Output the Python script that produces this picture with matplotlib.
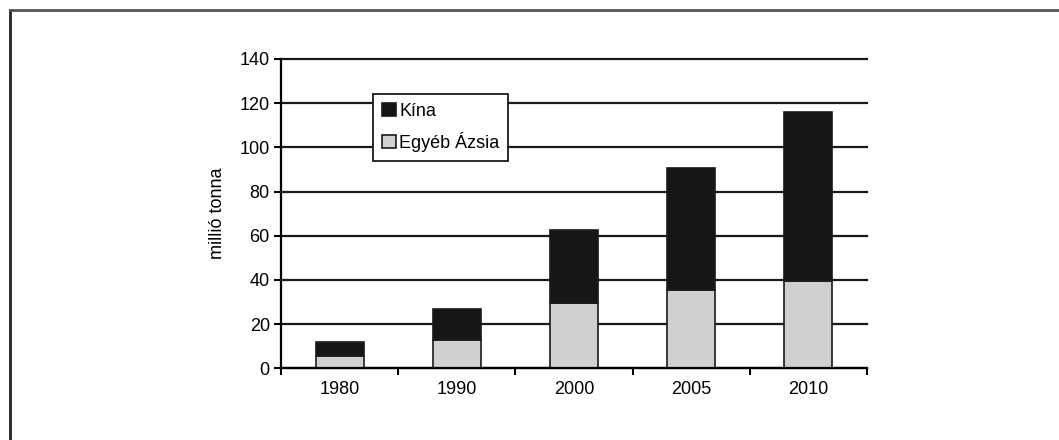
import numpy as np
import matplotlib
matplotlib.use("Agg")
import matplotlib.pyplot as plt
from matplotlib.lines import Line2D

years = ["1980", "1990", "2000", "2005", "2010"]
egyeb_azsia = [5.5, 13, 29.5, 35.5, 39.5]
kina = [6.5, 14, 33, 55, 76.5]

plt.rcParams["font.family"] = ["Liberation Sans", "DejaVu Sans"]
fs = 13

fig = plt.figure(figsize=(10.59, 4.4), dpi=100)
ax = fig.add_axes([0.2653, 0.163, 0.5534, 0.703])

x = np.arange(len(years))
w = 0.41
ax.bar(x, egyeb_azsia, width=w, color="#d0d0d0", edgecolor="#1a1a1a", linewidth=1.2,
       label="Egyéb Ázsia", zorder=3)
ax.bar(x, kina, width=w, bottom=egyeb_azsia, color="#161616", edgecolor="#1a1a1a",
       linewidth=1.2, label="Kína", zorder=3)

ax.set_xlim(-0.5, len(years) - 0.5)
ax.set_ylim(0, 140)
ax.set_yticks(range(0, 141, 20))
ax.set_xticks(x)
ax.set_xticklabels(years)
ax.set_xticks(np.arange(len(years) + 1) - 0.5, minor=True)
ax.tick_params(axis="x", which="major", length=0, pad=9, labelsize=fs)
ax.tick_params(axis="x", which="minor", length=5, width=1.5, direction="out")
ax.tick_params(axis="y", length=5, width=1.5, labelsize=fs, pad=3)
ax.yaxis.grid(True, color="#1a1a1a", linewidth=1.6, zorder=1)
for gl in ax.get_ygridlines():
    gl.set_clip_on(False)
ax.set_axisbelow(True)
for s in ["top", "right"]:
    ax.spines[s].set_visible(False)
ax.spines["left"].set_linewidth(1.6)
ax.spines["bottom"].set_linewidth(1.6)
ax.spines["bottom"].set_zorder(4)
ax.set_ylabel("millió tonna", fontsize=fs, labelpad=10)

handles, labels = ax.get_legend_handles_labels()
leg = ax.legend(handles[::-1], labels[::-1], loc="upper left",
                bbox_to_anchor=(0.157, 0.887), fancybox=False, framealpha=1,
                edgecolor="#1a1a1a", fontsize=fs, handlelength=0.75,
                handleheight=0.75, handletextpad=0.2, borderpad=0.5,
                labelspacing=0.65, borderaxespad=0)
leg.get_frame().set_linewidth(1.3)
leg.set_zorder(5)

# outer frame
fig.add_artist(Line2D([10 / 1059, 10 / 1059], [0, 1 - 10 / 440], transform=fig.transFigure,
                      color="#222222", linewidth=2))
fig.add_artist(Line2D([10 / 1059, 1], [1 - 10 / 440, 1 - 10 / 440], transform=fig.transFigure,
                      color="#555555", linewidth=2))

fig.savefig("out.png", dpi=100)
